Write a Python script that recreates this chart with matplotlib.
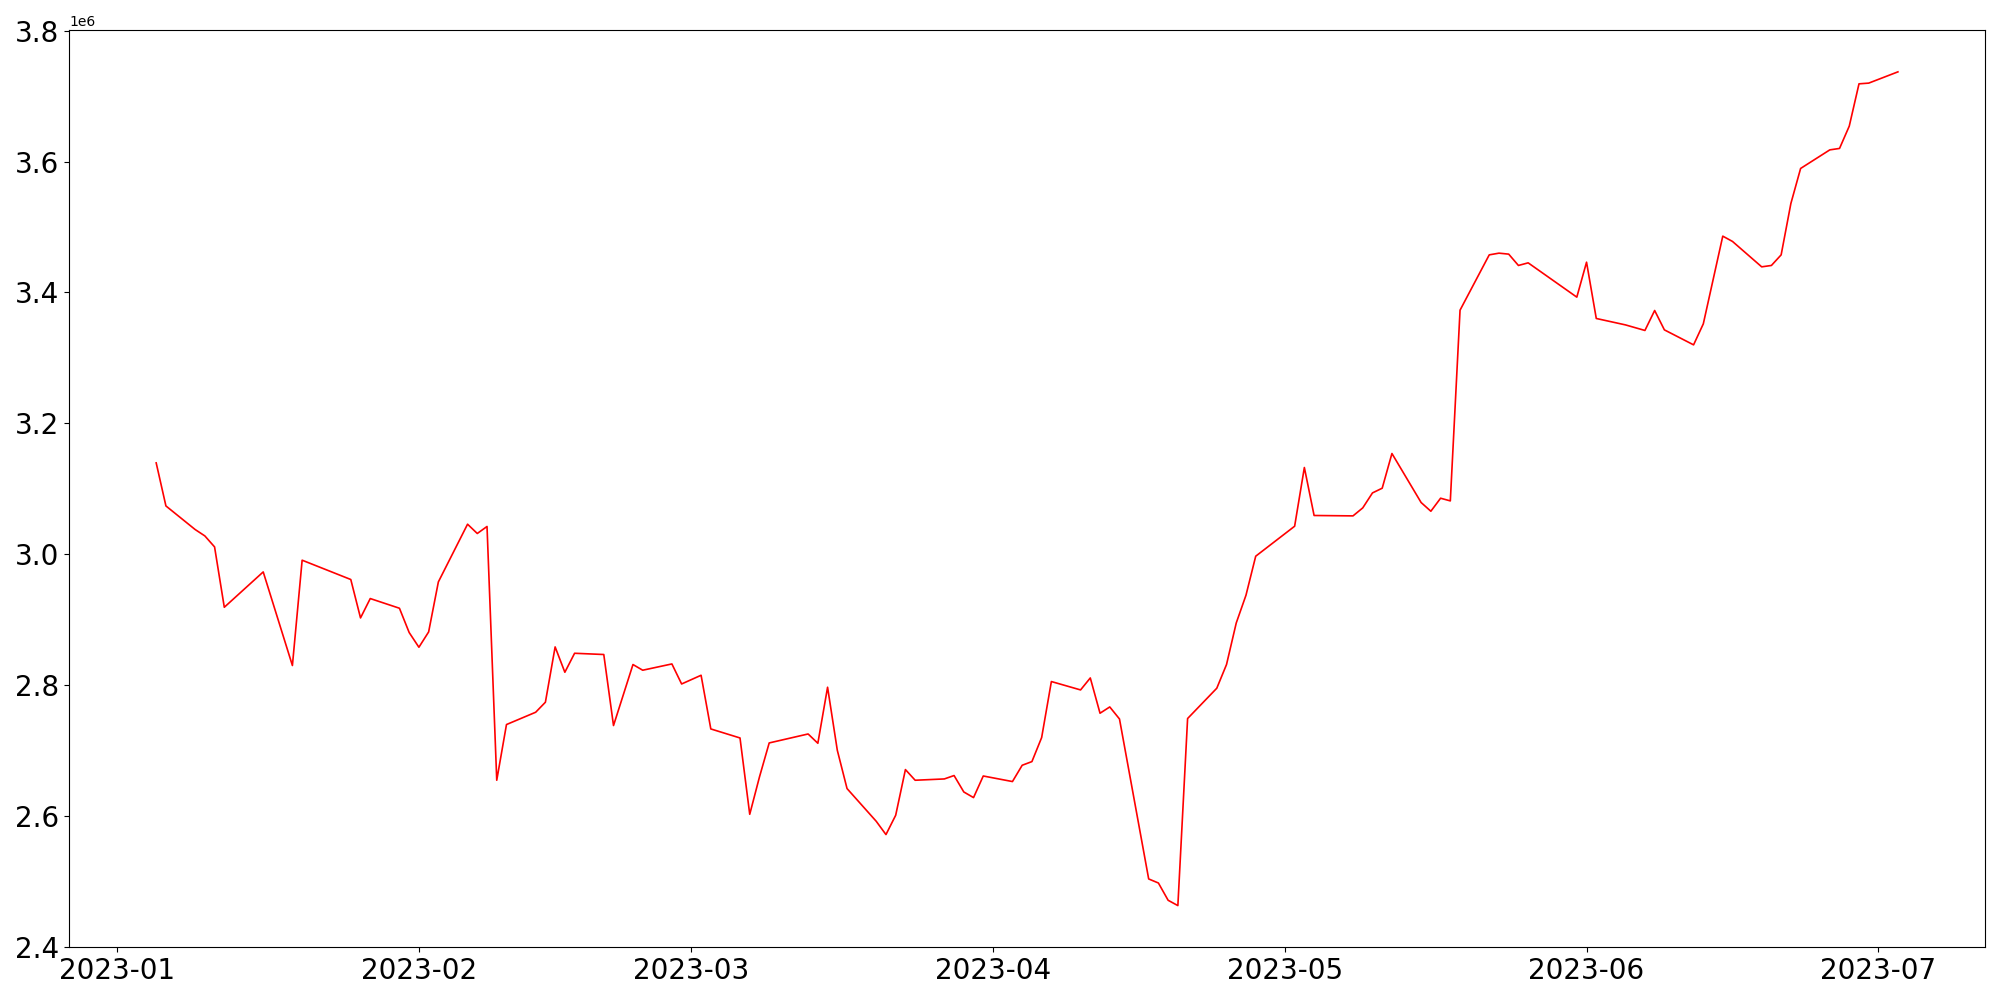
import pandas as pd
import matplotlib
matplotlib.use("Agg")
import matplotlib.pyplot as plt

# trading days
dates = [
    "2023-01-05", "2023-01-06", "2023-01-09", "2023-01-10", "2023-01-11", "2023-01-12",
    "2023-01-16", "2023-01-19", "2023-01-20", "2023-01-25", "2023-01-26", "2023-01-27",
    "2023-01-30", "2023-01-31", "2023-02-01", "2023-02-02", "2023-02-03", "2023-02-06",
    "2023-02-07", "2023-02-08", "2023-02-09", "2023-02-10", "2023-02-13", "2023-02-14",
    "2023-02-15", "2023-02-16", "2023-02-17", "2023-02-20", "2023-02-21", "2023-02-23",
    "2023-02-24", "2023-02-27", "2023-02-28", "2023-03-02", "2023-03-03", "2023-03-06",
    "2023-03-07", "2023-03-08", "2023-03-09", "2023-03-13", "2023-03-14", "2023-03-15",
    "2023-03-16", "2023-03-17", "2023-03-20", "2023-03-21", "2023-03-22", "2023-03-23",
    "2023-03-24", "2023-03-27", "2023-03-28", "2023-03-29", "2023-03-30", "2023-03-31",
    "2023-04-03", "2023-04-04", "2023-04-05", "2023-04-06", "2023-04-07", "2023-04-10",
    "2023-04-11", "2023-04-12", "2023-04-13", "2023-04-14", "2023-04-17", "2023-04-18",
    "2023-04-19", "2023-04-20", "2023-04-21", "2023-04-24", "2023-04-25", "2023-04-26",
    "2023-04-27", "2023-04-28", "2023-05-02", "2023-05-03", "2023-05-04", "2023-05-08",
    "2023-05-09", "2023-05-10", "2023-05-11", "2023-05-12", "2023-05-15", "2023-05-16",
    "2023-05-17", "2023-05-18", "2023-05-19", "2023-05-22", "2023-05-23", "2023-05-24",
    "2023-05-25", "2023-05-26", "2023-05-31", "2023-06-01", "2023-06-02", "2023-06-05",
    "2023-06-07", "2023-06-08", "2023-06-09", "2023-06-12", "2023-06-13", "2023-06-15",
    "2023-06-16", "2023-06-19", "2023-06-20", "2023-06-21", "2023-06-22", "2023-06-23",
    "2023-06-26", "2023-06-27", "2023-06-28", "2023-06-29", "2023-06-30", "2023-07-03",
]

# values in millions
values = [
    3.1396, 3.0738, 3.0378, 3.0280, 3.0112, 2.9190,
    2.9730, 2.8300, 2.9909, 2.9614, 2.9027, 2.9323,
    2.9175, 2.8804, 2.8579, 2.8813, 2.9577, 3.0459,
    3.0317, 3.0424, 2.6547, 2.7398, 2.7586, 2.7739,
    2.8584, 2.8197, 2.8487, 2.8468, 2.7383, 2.8315,
    2.8228, 2.8324, 2.8018, 2.8151, 2.7331, 2.7193,
    2.6027, 2.6597, 2.7117, 2.7254, 2.7112, 2.7968,
    2.7005, 2.6420, 2.5920, 2.5717, 2.6012, 2.6710,
    2.6547, 2.6567, 2.6619, 2.6368, 2.6282, 2.6612,
    2.6527, 2.6776, 2.6832, 2.7199, 2.8055, 2.7927,
    2.8110, 2.7571, 2.7667, 2.7483, 2.5039, 2.4977,
    2.4713, 2.4632, 2.7490, 2.7953, 2.8315, 2.8950,
    2.9374, 2.9970, 3.0428, 3.1325, 3.0592, 3.0586,
    3.0708, 3.0937, 3.1009, 3.1539, 3.0790, 3.0657,
    3.0856, 3.0815, 3.3729, 3.4574, 3.4600, 3.4585,
    3.4412, 3.4452, 3.3928, 3.4462, 3.3602, 3.3504,
    3.3419, 3.3724, 3.3428, 3.3199, 3.3520, 3.4860,
    3.4779, 3.4391, 3.4412, 3.4574, 3.5359, 3.5894,
    3.6178, 3.6200, 3.6541, 3.7187, 3.7198, 3.7370,
]

s = pd.Series([v * 1e6 for v in values], index=pd.to_datetime(dates))

fig, ax = plt.subplots(figsize=(20, 10), dpi=100)
ax.plot(s.index, s.values, color="red", linewidth=1.2)
ax.tick_params(axis="both", labelsize=20)
plt.tight_layout()
plt.savefig("out.png")
